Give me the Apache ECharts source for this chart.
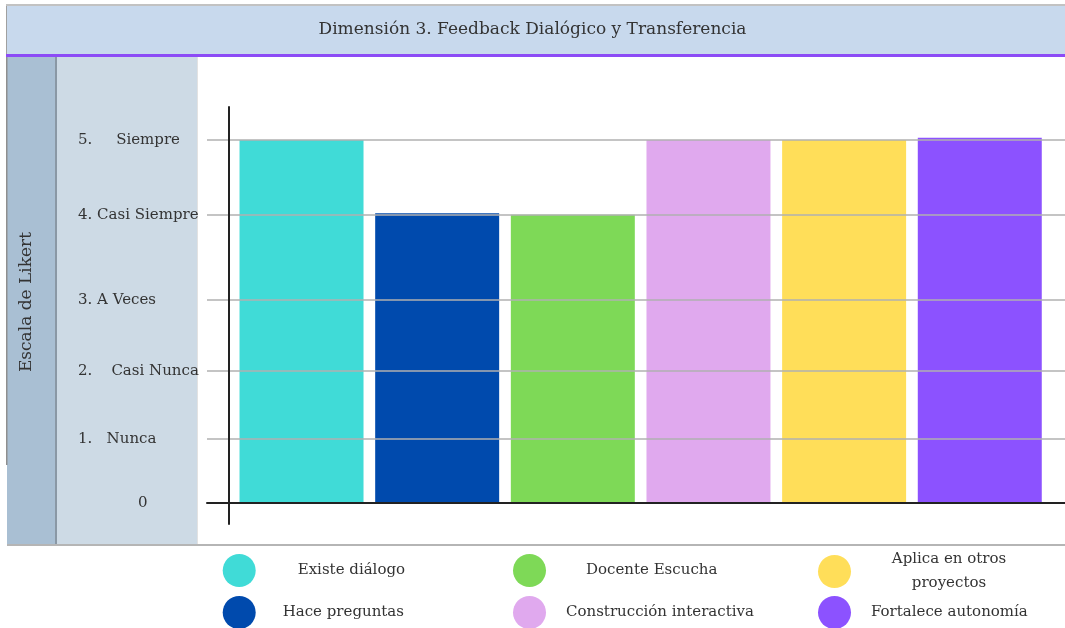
<!DOCTYPE html>
<html>
<head>
<meta charset="utf-8">
<script src="https://cdn.jsdelivr.net/npm/echarts@6/dist/echarts.min.js"></script>
<style>
  html, body { margin: 0; padding: 0; background: #fff; }
  #chart { width: 1065px; height: 628px; }
</style>
</head>
<body>
<div id="chart"></div>
<script>
const categories = ['Existe diálogo', 'Hace preguntas', 'Docente Escucha', 'Construcción interactiva', 'Aplica en otros proyectos', 'Fortalece autonomía'];
const values = [5, 3.99, 3.97, 5, 5, 5.03];
const colors = ['#40dbd7', '#004aad', '#7ed957', '#e0a9ee', '#ffde59', '#8c52ff'];

// Likert levels and where each one sits on the drawn scale (uneven in the original)
const levelLabels = ['0', '1.   Nunca', '2.    Casi Nunca', '3. A Veces', '4. Casi Siempre', '5.     Siempre'];
const levelPos = [0, 0.88, 1.82, 2.80, 3.97, 5];

const title = 'Dimensión 3. Feedback Dialógico y Transferencia';
const axisName = 'Escala de Likert';

const FONT = 'DejaVu Serif';
const TEXT = '#333';
const Y_MIN = -0.29;
const Y_MAX = 5.455;

const chart = echarts.init(document.getElementById('chart'), null, { renderer: 'canvas' });

// legend: 3 columns x 2 rows, filled column by column
const legendCols = [222.7, 513, 818];
const legendRows = [554, 596];
const legendTextPad = [37, 22, 35, 15, 35, 15];
const legends = categories.map((name, i) => ({
  data: [name],
  left: legendCols[Math.floor(i / 2)],
  top: i === 4 ? legendRows[0] - 2 : legendRows[i % 2],
  padding: 0,
  icon: 'circle',
  itemWidth: 33,
  itemHeight: 33,
  selectedMode: false,
  formatter: (n) => n === 'Aplica en otros proyectos' ? '{c|Aplica en otros\nproyectos}' : n,
  textStyle: {
    fontFamily: FONT,
    fontSize: 15,
    color: TEXT,
    padding: [0, 0, 0, legendTextPad[i]],
    rich: { c: { fontFamily: FONT, fontSize: 15, color: TEXT, width: 116, align: 'center', lineHeight: 24 } },
  },
}));

const barSeries = categories.map((name, i) => ({
  name,
  type: 'bar',
  stack: 'all',
  xAxisIndex: 0,
  yAxisIndex: 0,
  barCategoryGap: '8.6%',
  itemStyle: { color: colors[i] },
  data: values.map((v, j) => (j === i ? v : '-')),
  z: 3,
}));

chart.setOption({
  backgroundColor: '#fff',
  animation: false,
  title: {
    text: title,
    left: 'center',
    top: 16,
    textStyle: { fontFamily: FONT, fontSize: 17, fontWeight: 'normal', color: TEXT },
  },
  legend: legends,
  grid: [
    { left: 233.7, right: 17.4, top: 107, bottom: 104 },
    { left: 207, right: 0, top: 107, bottom: 104 },
  ],
  xAxis: [
    { type: 'category', gridIndex: 0, data: categories, show: false },
    {
      type: 'value',
      gridIndex: 1,
      min: 0,
      max: 1,
      axisLine: { show: true, onZero: true, lineStyle: { color: '#222', width: 2 } },
      axisTick: { show: false },
      axisLabel: { show: false },
      splitLine: { show: false },
      z: 5,
    },
  ],
  yAxis: [
    {
      type: 'value',
      gridIndex: 0,
      min: Y_MIN,
      max: Y_MAX,
      offset: 4.7,
      axisLine: { show: true, onZero: false, lineStyle: { color: '#222', width: 2 } },
      axisTick: { show: false },
      splitLine: { show: false },
      axisLabel: {
        customValues: levelPos,
        align: 'left',
        margin: 151,
        fontFamily: FONT,
        fontSize: 15,
        color: TEXT,
        formatter: (v) => {
          const idx = levelPos.indexOf(v);
          if (idx === 0) return '{z|0}';
          return idx >= 0 ? levelLabels[idx] : '';
        },
        rich: { z: { fontFamily: FONT, fontSize: 15, color: TEXT, padding: [0, 0, 0, 60] } },
      },
      z: 5,
    },
    { type: 'value', gridIndex: 1, min: Y_MIN, max: Y_MAX, show: false },
  ],
  graphic: [
    { type: 'rect', z: -10, silent: true, shape: { x: 6, y: 4, width: 1059, height: 2 }, style: { fill: '#c2c2c2' } },
    { type: 'rect', z: -10, silent: true, shape: { x: 6, y: 6, width: 1, height: 48 }, style: { fill: '#a0a0a0' } },
    { type: 'rect', z: -10, silent: true, shape: { x: 7, y: 6, width: 1058, height: 48 }, style: { fill: '#c8d9ed' } },
    { type: 'rect', z: -10, silent: true, shape: { x: 6, y: 54, width: 1059, height: 3 }, style: { fill: '#8c4bf6' } },
    { type: 'rect', z: -10, silent: true, shape: { x: 7, y: 57, width: 48, height: 487 }, style: { fill: '#a9bfd3' } },
    { type: 'rect', z: -10, silent: true, shape: { x: 6, y: 57, width: 1.5, height: 408 }, style: { fill: '#8f8f8f' } },
    { type: 'rect', z: -10, silent: true, shape: { x: 55, y: 57, width: 2, height: 487 }, style: { fill: '#8a98a5' } },
    { type: 'rect', z: -10, silent: true, shape: { x: 57, y: 57, width: 140, height: 487 }, style: { fill: '#cddae5' } },
    { type: 'rect', z: -10, silent: true, shape: { x: 197, y: 57, width: 1, height: 487 }, style: { fill: '#e2e2e2' } },
    { type: 'rect', z: -10, silent: true, shape: { x: 7, y: 544, width: 1058, height: 2 }, style: { fill: '#b5b5b5' } },
    {
      type: 'text',
      z: 10,
      silent: true,
      x: 27,
      y: 302,
      rotation: Math.PI / 2,
      style: { text: axisName, font: '17px "DejaVu Serif"', fill: TEXT, align: 'center', verticalAlign: 'middle' },
    },
  ],
  series: [
    {
      type: 'line',
      xAxisIndex: 1,
      yAxisIndex: 1,
      data: [],
      silent: true,
      z: 1,
      markLine: {
        silent: true,
        symbol: 'none',
        label: { show: false },
        lineStyle: { color: '#b0b0b0', width: 1.5, type: 'solid' },
        data: levelPos.slice(1).map((v) => ({ yAxis: v })),
      },
    },
    ...barSeries,
  ],
});
</script>
</body>
</html>
